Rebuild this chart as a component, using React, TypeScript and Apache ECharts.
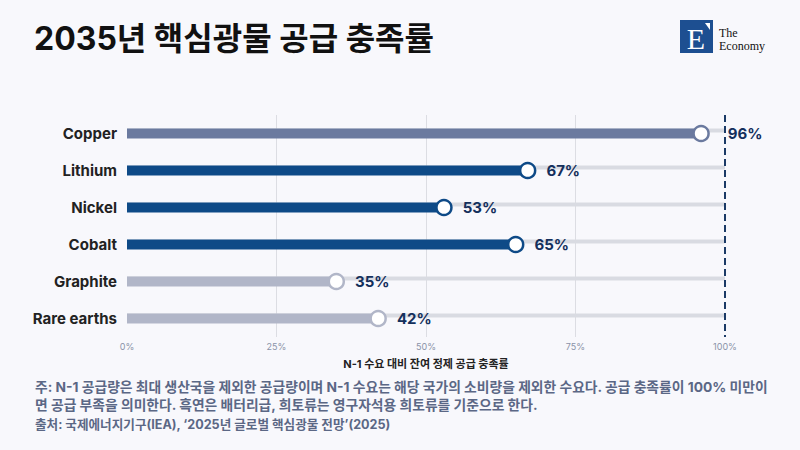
import React, { useEffect, useRef } from "react";
import * as echarts from "echarts";

const categories = ["Copper", "Lithium", "Nickel", "Cobalt", "Graphite", "Rare earths"];
const values = [96, 67, 53, 65, 35, 42];
const trackValues = [100, 100, 100, 100, 100, 100];
const barColors = ["#6b7a9f", "#0e4a87", "#0e4a87", "#0e4a87", "#b1b6c8", "#b1b6c8"];
const xTicks = [0, 25, 50, 75, 100];

const TITLE = "2035년 핵심광물 공급 충족률";
const AXIS_NAME = "N-1 수요 대비 잔여 정제 공급 충족률";
const NOTE1 = "주: N-1 공급량은 최대 생산국을 제외한 공급량이며 N-1 수요는 해당 국가의 소비량을 제외한 수요다. 공급 충족률이 100% 미만이";
const NOTE2 = "면 공급 부족을 의미한다. 흑연은 배터리급, 희토류는 영구자석용 희토류를 기준으로 한다.";
const SOURCE = "출처: 국제에너지기구(IEA), ‘2025년 글로벌 핵심광물 전망’(2025)";

const FONT = "Inter, 'Noto Sans CJK KR', sans-serif";
const SERIF = "'Liberation Serif', 'DejaVu Serif', serif";

export default function App() {
  const ref = useRef<HTMLDivElement>(null);
  useEffect(() => {
    document.body.style.margin = "0";
    if (!ref.current) return;
    const chart = echarts.init(ref.current, undefined, { renderer: "svg" });
    const option: any = {
      animation: false,
      backgroundColor: "#f8f8fc",
      textStyle: { fontFamily: FONT },
      grid: { left: 127, right: 75, top: 115, bottom: 113, containLabel: false },
      xAxis: {
        type: "value",
        min: xTicks[0],
        max: xTicks[xTicks.length - 1],
        interval: 25,
        axisLine: { show: false },
        axisTick: { show: false },
        axisLabel: { formatter: "{value}%", color: "#8a93a8", fontSize: 9, margin: 5, fontFamily: FONT },
        splitLine: {
          show: true,
          lineStyle: { color: ["transparent", "#dcdde3", "#dcdde3", "#dcdde3", "transparent"], width: 1 },
        },
        name: AXIS_NAME,
        nameLocation: "middle",
        nameGap: 21,
        nameTextStyle: { color: "#222222", fontSize: 11, fontWeight: "bold", fontFamily: FONT },
      },
      yAxis: {
        type: "category",
        data: categories,
        inverse: true,
        axisLine: { show: false },
        axisTick: { show: false },
        splitLine: { show: false },
        axisLabel: { color: "#222222", fontSize: 15, fontWeight: "bold", margin: 10, fontFamily: FONT },
      },
      series: [
        {
          type: "bar",
          data: trackValues,
          barWidth: 4,
          barGap: "-100%",
          itemStyle: { color: "#d9dbe2" },
          z: 1,
          silent: true,
          markLine: {
            symbol: "none",
            silent: true,
            label: { show: false },
            lineStyle: { color: "#1b3a66", width: 2, type: [7, 4] },
            data: [{ xAxis: 100 }],
          },
        },
        {
          type: "bar",
          data: values.map((v, i) => ({ value: v, itemStyle: { color: barColors[i] } })),
          barWidth: 10,
          barGap: "-100%",
          z: 2,
        },
        {
          type: "scatter",
          data: values.map((v, i) => ({
            value: [v, categories[i]],
            itemStyle: { color: "#ffffff", borderColor: barColors[i], borderWidth: 2.5, opacity: 1 },
            label: i === 0 ? { distance: 18 } : undefined,
          })),
          symbol: "circle",
          symbolSize: 15,
          itemStyle: { opacity: 1 },
          z: 3,
          label: {
            show: true,
            position: "right",
            distance: 10,
            formatter: (p: any) => p.value[0] + "%",
            color: "#14305c",
            fontSize: 15,
            fontWeight: "bold",
            fontFamily: FONT,
          },
        },
      ],
      graphic: [
        {
          type: "text",
          left: 34,
          top: 22,
          style: { text: TITLE, fill: "#111111", font: `bold 32px ${FONT}` },
        },
        { type: "rect", shape: { x: 680, y: 20, width: 33, height: 33 }, style: { fill: "#1d4f91" } },
        {
          type: "text",
          x: 696,
          y: 38,
          style: {
            text: "E",
            fill: "#ffffff",
            font: `30px ${SERIF}`,
            align: "center",
            verticalAlign: "middle",
          },
        },
        { type: "polygon", shape: { points: [[705, 23], [710, 23], [710, 30]] }, style: { fill: "#ffffff" } },
        {
          type: "text",
          x: 719,
          y: 26,
          style: { text: "The\nEconomy", fill: "#111111", font: `12px ${SERIF}`, lineHeight: 13, verticalAlign: "top" },
        },
        {
          type: "text",
          x: 35,
          y: 387,
          style: { text: NOTE1, fill: "#5b6785", font: `bold 13.8px ${FONT}`, verticalAlign: "middle" },
        },
        {
          type: "text",
          x: 35,
          y: 405,
          style: { text: NOTE2, fill: "#5b6785", font: `bold 13.8px ${FONT}`, verticalAlign: "middle" },
        },
        {
          type: "text",
          x: 35,
          y: 424,
          style: { text: SOURCE, fill: "#5b6785", font: `bold 12.6px ${FONT}`, verticalAlign: "middle" },
        },
      ],
    };
    chart.setOption(option);
    return () => chart.dispose();
  }, []);
  return <div ref={ref} style={{ width: 800, height: 450 }} />;
}
